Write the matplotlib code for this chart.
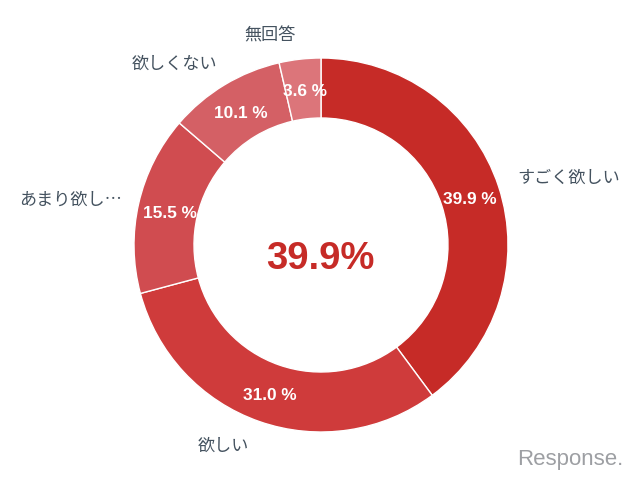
import matplotlib
matplotlib.use("Agg")
import matplotlib.pyplot as plt

plt.rcParams['font.family'] = ['Noto Sans CJK JP', 'DejaVu Sans']

categories = ['すごく欲しい', '欲しい', 'あまり欲し…', '欲しくない', '無回答']
values = [39.9, 31.0, 15.5, 10.1, 3.6]
colors = ['#c62b27', '#cf3b3b', '#d04c50', '#d46065', '#dc757a']
center_text = '39.9%'

W, H = 640, 480
fig = plt.figure(figsize=(6.4, 4.8), dpi=100)
ax = fig.add_axes([0, 0, 1, 1])

# pie draws in data coords, y axis flipped so angles run clockwise on their own
cx, cy, r = 321, 245, 187
wedges, _ = ax.pie(values, colors=colors, startangle=-90, center=(cx, cy), radius=r,
                   wedgeprops=dict(width=60, edgecolor='white', linewidth=1),
                   frame=True)
ax.set_xlim(0, W)
ax.set_ylim(H, 0)
ax.set_aspect('equal')
ax.axis('off')

pct_pos = [(470, 199), (270, 395), (170, 214), (241, 114), (305, 92)]
for v, (x, y) in zip(values, pct_pos):
    ax.text(x, y, f'{v:.1f} %', color='white', fontsize=12.4, fontweight='bold',
            ha='center', va='center', family=['Liberation Sans', 'DejaVu Sans'])

label_pos = [(517, 178, 'left'), (198, 446, 'left'), (122, 200, 'right'),
             (217, 64, 'right'), (270, 35, 'center')]
for cat, (x, y, ha) in zip(categories, label_pos):
    ax.text(x, y, cat, color='#44525f', fontsize=12.3, ha=ha, va='center')

ax.text(320, 259, center_text, color='#c62b27', fontsize=27.5, fontweight='bold',
        ha='center', va='center', family=['Liberation Sans', 'DejaVu Sans'])

# watermark
ax.text(570, 460, 'Response.', color='#9d9fa3', fontsize=16,
        ha='center', va='center', family=['Liberation Sans', 'DejaVu Sans'])

fig.savefig('out.png', dpi=100)
